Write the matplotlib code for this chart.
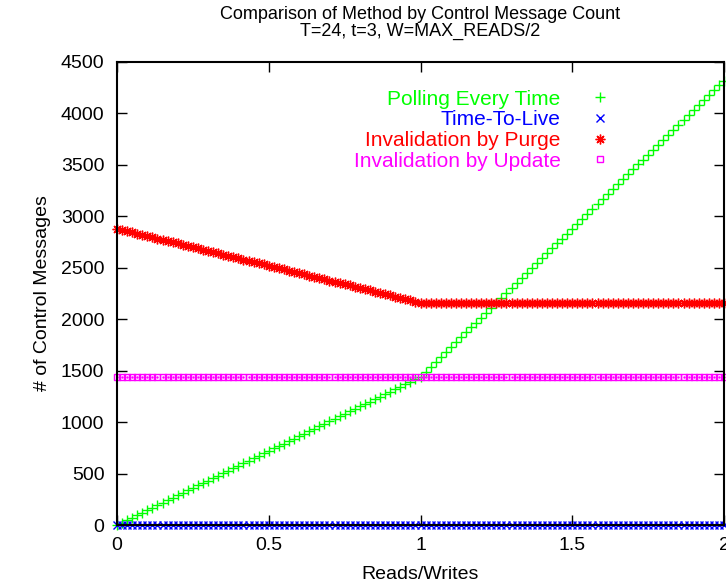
import numpy as np
import matplotlib
matplotlib.use("Agg")
import matplotlib.pyplot as plt

# reads go 0..MAX_READS, writes W = MAX_READS/2
reads = list(range(0, 121))
writes = 60

polling = [
    0, 24, 48, 72, 96, 120, 144, 168, 192, 216,
    240, 264, 288, 312, 336, 360, 384, 408, 432, 456,
    480, 504, 528, 552, 576, 600, 624, 648, 672, 696,
    720, 744, 768, 792, 816, 840, 864, 888, 912, 936,
    960, 984, 1008, 1032, 1056, 1080, 1104, 1128, 1152, 1176,
    1200, 1224, 1248, 1272, 1296, 1320, 1344, 1368, 1392, 1416,
    1440,
    1488, 1536, 1584, 1632, 1680, 1728, 1776, 1824, 1872, 1920,
    1968, 2016, 2064, 2112, 2160, 2208, 2256, 2304, 2352, 2400,
    2448, 2496, 2544, 2592, 2640, 2688, 2736, 2784, 2832, 2880,
    2928, 2976, 3024, 3072, 3120, 3168, 3216, 3264, 3312, 3360,
    3408, 3456, 3504, 3552, 3600, 3648, 3696, 3744, 3792, 3840,
    3888, 3936, 3984, 4032, 4080, 4128, 4176, 4224, 4272, 4320,
]

ttl = [
    0, 0, 0, 0, 0, 0, 0, 0, 0, 0, 0, 0, 0, 0, 0, 0, 0, 0, 0, 0,
    0, 0, 0, 0, 0, 0, 0, 0, 0, 0, 0, 0, 0, 0, 0, 0, 0, 0, 0, 0,
    0, 0, 0, 0, 0, 0, 0, 0, 0, 0, 0, 0, 0, 0, 0, 0, 0, 0, 0, 0,
    0,
    0, 0, 0, 0, 0, 0, 0, 0, 0, 0, 0, 0, 0, 0, 0, 0, 0, 0, 0, 0,
    0, 0, 0, 0, 0, 0, 0, 0, 0, 0, 0, 0, 0, 0, 0, 0, 0, 0, 0, 0,
    0, 0, 0, 0, 0, 0, 0, 0, 0, 0, 0, 0, 0, 0, 0, 0, 0, 0, 0, 0,
]

purge = [
    2880, 2868, 2856, 2844, 2832, 2820, 2808, 2796, 2784, 2772,
    2760, 2748, 2736, 2724, 2712, 2700, 2688, 2676, 2664, 2652,
    2640, 2628, 2616, 2604, 2592, 2580, 2568, 2556, 2544, 2532,
    2520, 2508, 2496, 2484, 2472, 2460, 2448, 2436, 2424, 2412,
    2400, 2388, 2376, 2364, 2352, 2340, 2328, 2316, 2304, 2292,
    2280, 2268, 2256, 2244, 2232, 2220, 2208, 2196, 2184, 2172,
    2160,
    2160, 2160, 2160, 2160, 2160, 2160, 2160, 2160, 2160, 2160,
    2160, 2160, 2160, 2160, 2160, 2160, 2160, 2160, 2160, 2160,
    2160, 2160, 2160, 2160, 2160, 2160, 2160, 2160, 2160, 2160,
    2160, 2160, 2160, 2160, 2160, 2160, 2160, 2160, 2160, 2160,
    2160, 2160, 2160, 2160, 2160, 2160, 2160, 2160, 2160, 2160,
    2160, 2160, 2160, 2160, 2160, 2160, 2160, 2160, 2160, 2160,
]

update = [
    1440, 1440, 1440, 1440, 1440, 1440, 1440, 1440, 1440, 1440,
    1440, 1440, 1440, 1440, 1440, 1440, 1440, 1440, 1440, 1440,
    1440, 1440, 1440, 1440, 1440, 1440, 1440, 1440, 1440, 1440,
    1440, 1440, 1440, 1440, 1440, 1440, 1440, 1440, 1440, 1440,
    1440, 1440, 1440, 1440, 1440, 1440, 1440, 1440, 1440, 1440,
    1440, 1440, 1440, 1440, 1440, 1440, 1440, 1440, 1440, 1440,
    1440,
    1440, 1440, 1440, 1440, 1440, 1440, 1440, 1440, 1440, 1440,
    1440, 1440, 1440, 1440, 1440, 1440, 1440, 1440, 1440, 1440,
    1440, 1440, 1440, 1440, 1440, 1440, 1440, 1440, 1440, 1440,
    1440, 1440, 1440, 1440, 1440, 1440, 1440, 1440, 1440, 1440,
    1440, 1440, 1440, 1440, 1440, 1440, 1440, 1440, 1440, 1440,
    1440, 1440, 1440, 1440, 1440, 1440, 1440, 1440, 1440, 1440,
]

labels = ["Polling Every Time", "Time-To-Live",
          "Invalidation by Purge", "Invalidation by Update"]
colors = ["#00ff00", "#0000ff", "#ff0000", "#ff00ff"]

plt.rcParams["font.family"] = ["Liberation Sans", "DejaVu Sans"]

ratio = np.array(reads) / writes

fig = plt.figure(figsize=(7.26, 5.85), dpi=100)
ax = fig.add_axes([117 / 726, 1 - 525 / 585, 607 / 726, 463 / 585])

# gnuplot doesn't clip points at the border
ax.plot(ratio, polling, ls="none", marker="+", ms=6.5, mew=1, color=colors[0],
        label=labels[0], clip_on=False)
ax.plot(ratio, ttl, ls="none", marker="x", ms=5.5, mew=1, color=colors[1],
        label=labels[1], clip_on=False)
ax.plot(ratio, purge, ls="none", marker=(8, 2, 0), ms=7, mew=1, color=colors[2],
        label=labels[2], clip_on=False)
ax.plot(ratio, update, ls="none", marker="s", ms=5, mew=1, mfc="none", color=colors[3],
        label=labels[3], clip_on=False)
ax.plot(ratio, update, ls="none", marker=".", ms=1.5, color=colors[3],
        label="_nolegend_", clip_on=False)

ax.set_xlim(0, 2)
ax.set_ylim(0, 4500)
ax.set_xticks([0, 0.5, 1, 1.5, 2])
ax.set_xticklabels(["0", "0.5", "1", "1.5", "2"])
ax.set_yticks(range(0, 4501, 500))
ax.tick_params(direction="in", length=7, width=1, labelsize=14, pad=9,
               top=True, right=True, colors="black")
for s in ax.spines.values():
    s.set_linewidth(1.5)

ax.set_xlabel("Reads/Writes", fontsize=14, labelpad=8)
ax.set_ylabel("# of Control Messages", fontsize=14, labelpad=7)
ax.set_title("Comparison of Method by Control Message Count\nT=24, t=3, W=MAX_READS/2",
             fontsize=13, linespacing=1.0, pad=19)

leg = ax.legend(loc="upper right", bbox_to_anchor=(0.83, 0.94), frameon=False,
                markerfirst=False, labelcolor="linecolor", borderpad=0, borderaxespad=0,
                handlelength=2, handletextpad=0.9, labelspacing=0.08,
                prop={"size": 15})

fig.savefig("out.png", dpi=100)
